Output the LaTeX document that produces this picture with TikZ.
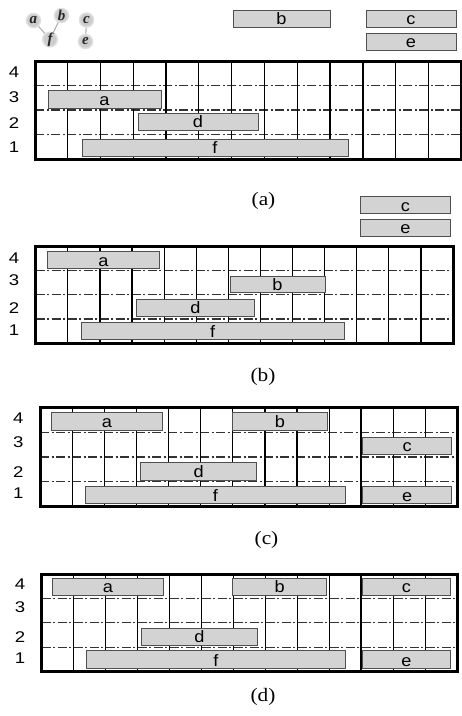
\documentclass[tikz,border=0pt]{standalone}
\usepackage{fontspec}
\setmainfont{Liberation Serif}
\setsansfont{Liberation Sans}
\newfontfamily\barfont[FakeStretch=1.1]{Liberation Sans}
\newfontfamily\digfont[FakeStretch=1.2]{Liberation Sans}
\newfontfamily\capfont[FakeStretch=1.12]{Liberation Serif}
\definecolor{barfill}{HTML}{D3D3D3}
\definecolor{barline}{HTML}{505050}
\tikzset{
  framebox/.style={line width=3pt,draw=black},
  gridv/.style={line width=1.2pt,draw=black},
  gridvthick/.style={line width=1.9pt,draw=black},
  gridh/.style={line width=1.2pt,draw=black!80,dash pattern=on 9pt off 2.5pt on 2pt off 2.5pt},
  barbox/.style={rectangle,draw=barline,fill=barfill,line width=1pt,inner sep=0pt,
     font=\barfont\fontsize{16.5}{16.5}\selectfont},
  rowlab/.style={inner sep=0pt,font=\digfont\fontsize{15.5}{15.5}\selectfont},
  caplab/.style={inner sep=0pt,font=\capfont\fontsize{19}{19}\selectfont},
  gnode/.style={circle,fill=gray!40,draw=gray!25,line width=1.5pt,minimum size=14pt,inner sep=0pt,
     text=black!85,font=\rmfamily\bfseries\itshape\fontsize{15}{15}\selectfont},
  gedge/.style={draw=gray!60,line width=1.1pt}
}
\newcommand\slotgrid[5]{%
  \pgfmathsetmacro\gdx{(#3-#1)/13}%
  \pgfmathsetmacro\gdy{(#4-#2)/4}%
  \foreach \i in {1,...,3}{\draw[gridh] (#1,#2+\i*\gdy) -- (#3,#2+\i*\gdy);}
  \foreach \i in {1,...,12}{\draw[gridv] (#1+\i*\gdx,#2) -- (#1+\i*\gdx,#4);}
  \draw[#5] (#1+10*\gdx,#2) -- (#1+10*\gdx,#4);
  \draw[framebox] (#1,#2) rectangle (#3,#4);
}
\newcommand\slotbar[6]{%
  \pgfmathsetmacro\bw{#4-#2}%
  \pgfmathsetmacro\bh{#5-#3}%
  \pgfmathsetmacro\bth{#5-#3-2.2}%
  \node[barbox,minimum width=\bw pt,minimum height=\bh pt,text height=\bth pt,text depth=2.2pt]
     (#1) at ({(#2+#4)/2},{(#3+#5)/2}) {#6};
}
\newcommand\rowlabels[5]{%
  \node[rowlab] (#1r4) at (#2,#3) {4};
  \node[rowlab] (#1r3) at (#2,#4) {3};
  \node[rowlab] (#1r2) at (#2,#5) {2};
}
\begin{document}
\begin{tikzpicture}[x=1pt,y=-1pt]
\useasboundingbox (0,0) rectangle (462,716);
% small graph
\node[gnode] (ga) at (33.5,20.5) {a};
\node[gnode] (gb) at (61.5,15.5) {b};
\node[gnode] (gf) at (50,39.5) {f};
\node[gnode] (gc) at (86.5,20) {c};
\node[gnode] (ge) at (85.5,41.5) {e};
\draw[gedge] (ga) -- (gf);
\draw[gedge] (gb) -- (gf);
\draw[gedge] (gc) -- (ge);
% panel (a)
\slotgrid{35}{61}{461}{159}{gridvthick}
\rowlabels{pa}{14}{72}{97}{123}
\node[rowlab] (par1) at (14,147) {1};
\slotbar{aa}{48}{90}{161}{108}{a}
\slotbar{ad}{138}{113}{258}{130}{d}
\slotbar{af}{82}{139}{348}{156}{f}
\slotbar{ab}{233}{10}{330}{27}{b}
\slotbar{ac}{366}{10}{456}{27}{c}
\slotbar{ae}{366}{33}{456}{50}{e}
\node[caplab] (capa) at (263.5,201) {(a)};
% panel (b)
\slotgrid{35.7}{246.7}{453}{343}{gridv}
\rowlabels{pb}{14}{257.7}{280}{307.7}
\node[rowlab] (pbr1) at (14,330) {1};
\slotbar{ba}{47.7}{251.7}{159.3}{268.3}{a}
\slotbar{bb}{230}{276}{325}{292.3}{b}
\slotbar{bd}{136.7}{299}{254.3}{316}{d}
\slotbar{bf}{81}{322.7}{344.3}{339.3}{f}
\slotbar{bc}{360.7}{196.7}{450}{213.3}{c}
\slotbar{be}{360.7}{219.3}{450}{236}{e}
\node[caplab] (capb) at (263,377) {(b)};
% panel (c)
\slotgrid{40}{407.3}{457.7}{506.7}{gridvthick}
\rowlabels{pc}{18.3}{418.3}{441.7}{471.7}
\node[rowlab] (pcr1) at (18.3,493.3) {1};
\slotbar{ca}{51}{412.3}{162.7}{430}{a}
\slotbar{cb}{232.7}{412.3}{327.3}{430}{b}
\slotbar{cd}{140.7}{462.7}{256.7}{480}{d}
\slotbar{cf}{85}{486}{345.7}{503.3}{f}
\slotbar{cc}{362.7}{437.3}{451.7}{454}{c}
\slotbar{ce}{362.7}{486}{451.7}{503.3}{e}
\node[caplab] (capc) at (266.5,540) {(c)};
% panel (d)
\slotgrid{41.7}{574}{457.3}{671.7}{gridvthick}
\rowlabels{pd}{20}{584}{606.7}{636.7}
\node[rowlab] (pdr1) at (20,658.3) {1};
\slotbar{da}{52.7}{578.3}{163.3}{595}{a}
\slotbar{db}{232.7}{578.3}{326.7}{595}{b}
\slotbar{dd}{141.7}{628.3}{257.3}{645}{d}
\slotbar{df}{86}{650}{345.7}{668.3}{f}
\slotbar{dc}{362.3}{578.3}{450.7}{595}{c}
\slotbar{de}{362.3}{650}{450.7}{668.3}{e}
\node[caplab] (capd) at (263,697) {(d)};
\end{tikzpicture}
\end{document}
